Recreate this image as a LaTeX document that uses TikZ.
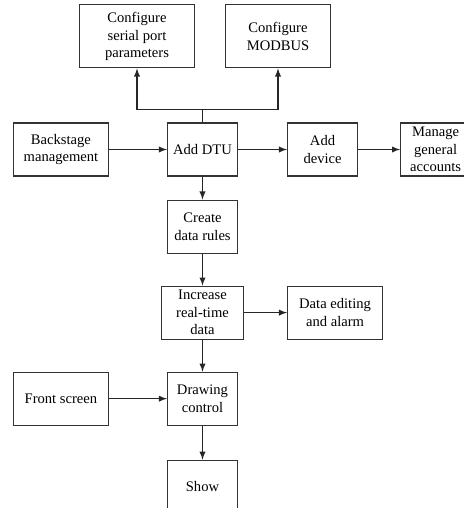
\documentclass[tikz,border=0pt]{standalone}
\usepackage{fontspec}
\setmainfont{Liberation Serif}
\usetikzlibrary{arrows, positioning}

\begin{document}
\begin{tikzpicture}[
    block/.style={draw=black!80, rectangle, minimum width=1.4cm, minimum height=1.06cm, inner sep=1pt, align=center, font=\rmfamily\fontsize{8.3}{10}\selectfont, line width=0.6pt},
    arrow/.style={->, >=latex, line width=0.6pt, black!85}
]
\useasboundingbox (0,0) rectangle (9.26,-10.16);
\node[block] (dtu) at (4.05,-2.99) {Add DTU};
\node[block, minimum width=1.9cm, left=1.16cm of dtu] (backstage) {Backstage\\management};
\node[block, right=0.98cm of dtu] (device) {Add\\device};
\node[block, right=0.84cm of device] (accounts) {Manage\\general\\accounts};
\node[block, minimum width=2.3cm, minimum height=1.26cm, above=1.08cm of dtu, xshift=-1.31cm] (serial) {Configure\\serial port\\parameters};
\node[block, minimum width=2.1cm, minimum height=1.26cm, above=1.08cm of dtu, xshift=1.51cm] (modbus) {Configure\\MODBUS};
\node[block, below=0.46cm of dtu] (rules) {Create\\data rules};
\node[block, minimum width=1.64cm, below=0.64cm of rules] (realtime) {Increase\\real-time\\data};
\node[block, minimum width=1.9cm, right=0.86cm of realtime] (editing) {Data editing\\and alarm};
\node[block, below=0.64cm of realtime] (drawing) {Drawing\\control};
\node[block, minimum width=1.9cm, left=1.16cm of drawing] (front) {Front screen};
\node[block, below=0.68cm of drawing] (show) {Show};

\draw[arrow] (backstage) -- (dtu);
\draw[arrow] (dtu) -- (device);
\draw[arrow] (device) -- (accounts);
\draw[line width=0.6pt, black!85] (dtu.north) -- ++(0,0.26) coordinate (split);
\draw[arrow] (split) -| (serial);
\draw[arrow] (split) -| (modbus);
\draw[arrow] (dtu) -- (rules);
\draw[arrow] (rules) -- (realtime);
\draw[arrow] (realtime) -- (editing);
\draw[arrow] (realtime) -- (drawing);
\draw[arrow] (front) -- (drawing);
\draw[arrow] (drawing) -- (show);
\end{tikzpicture}
\end{document}
